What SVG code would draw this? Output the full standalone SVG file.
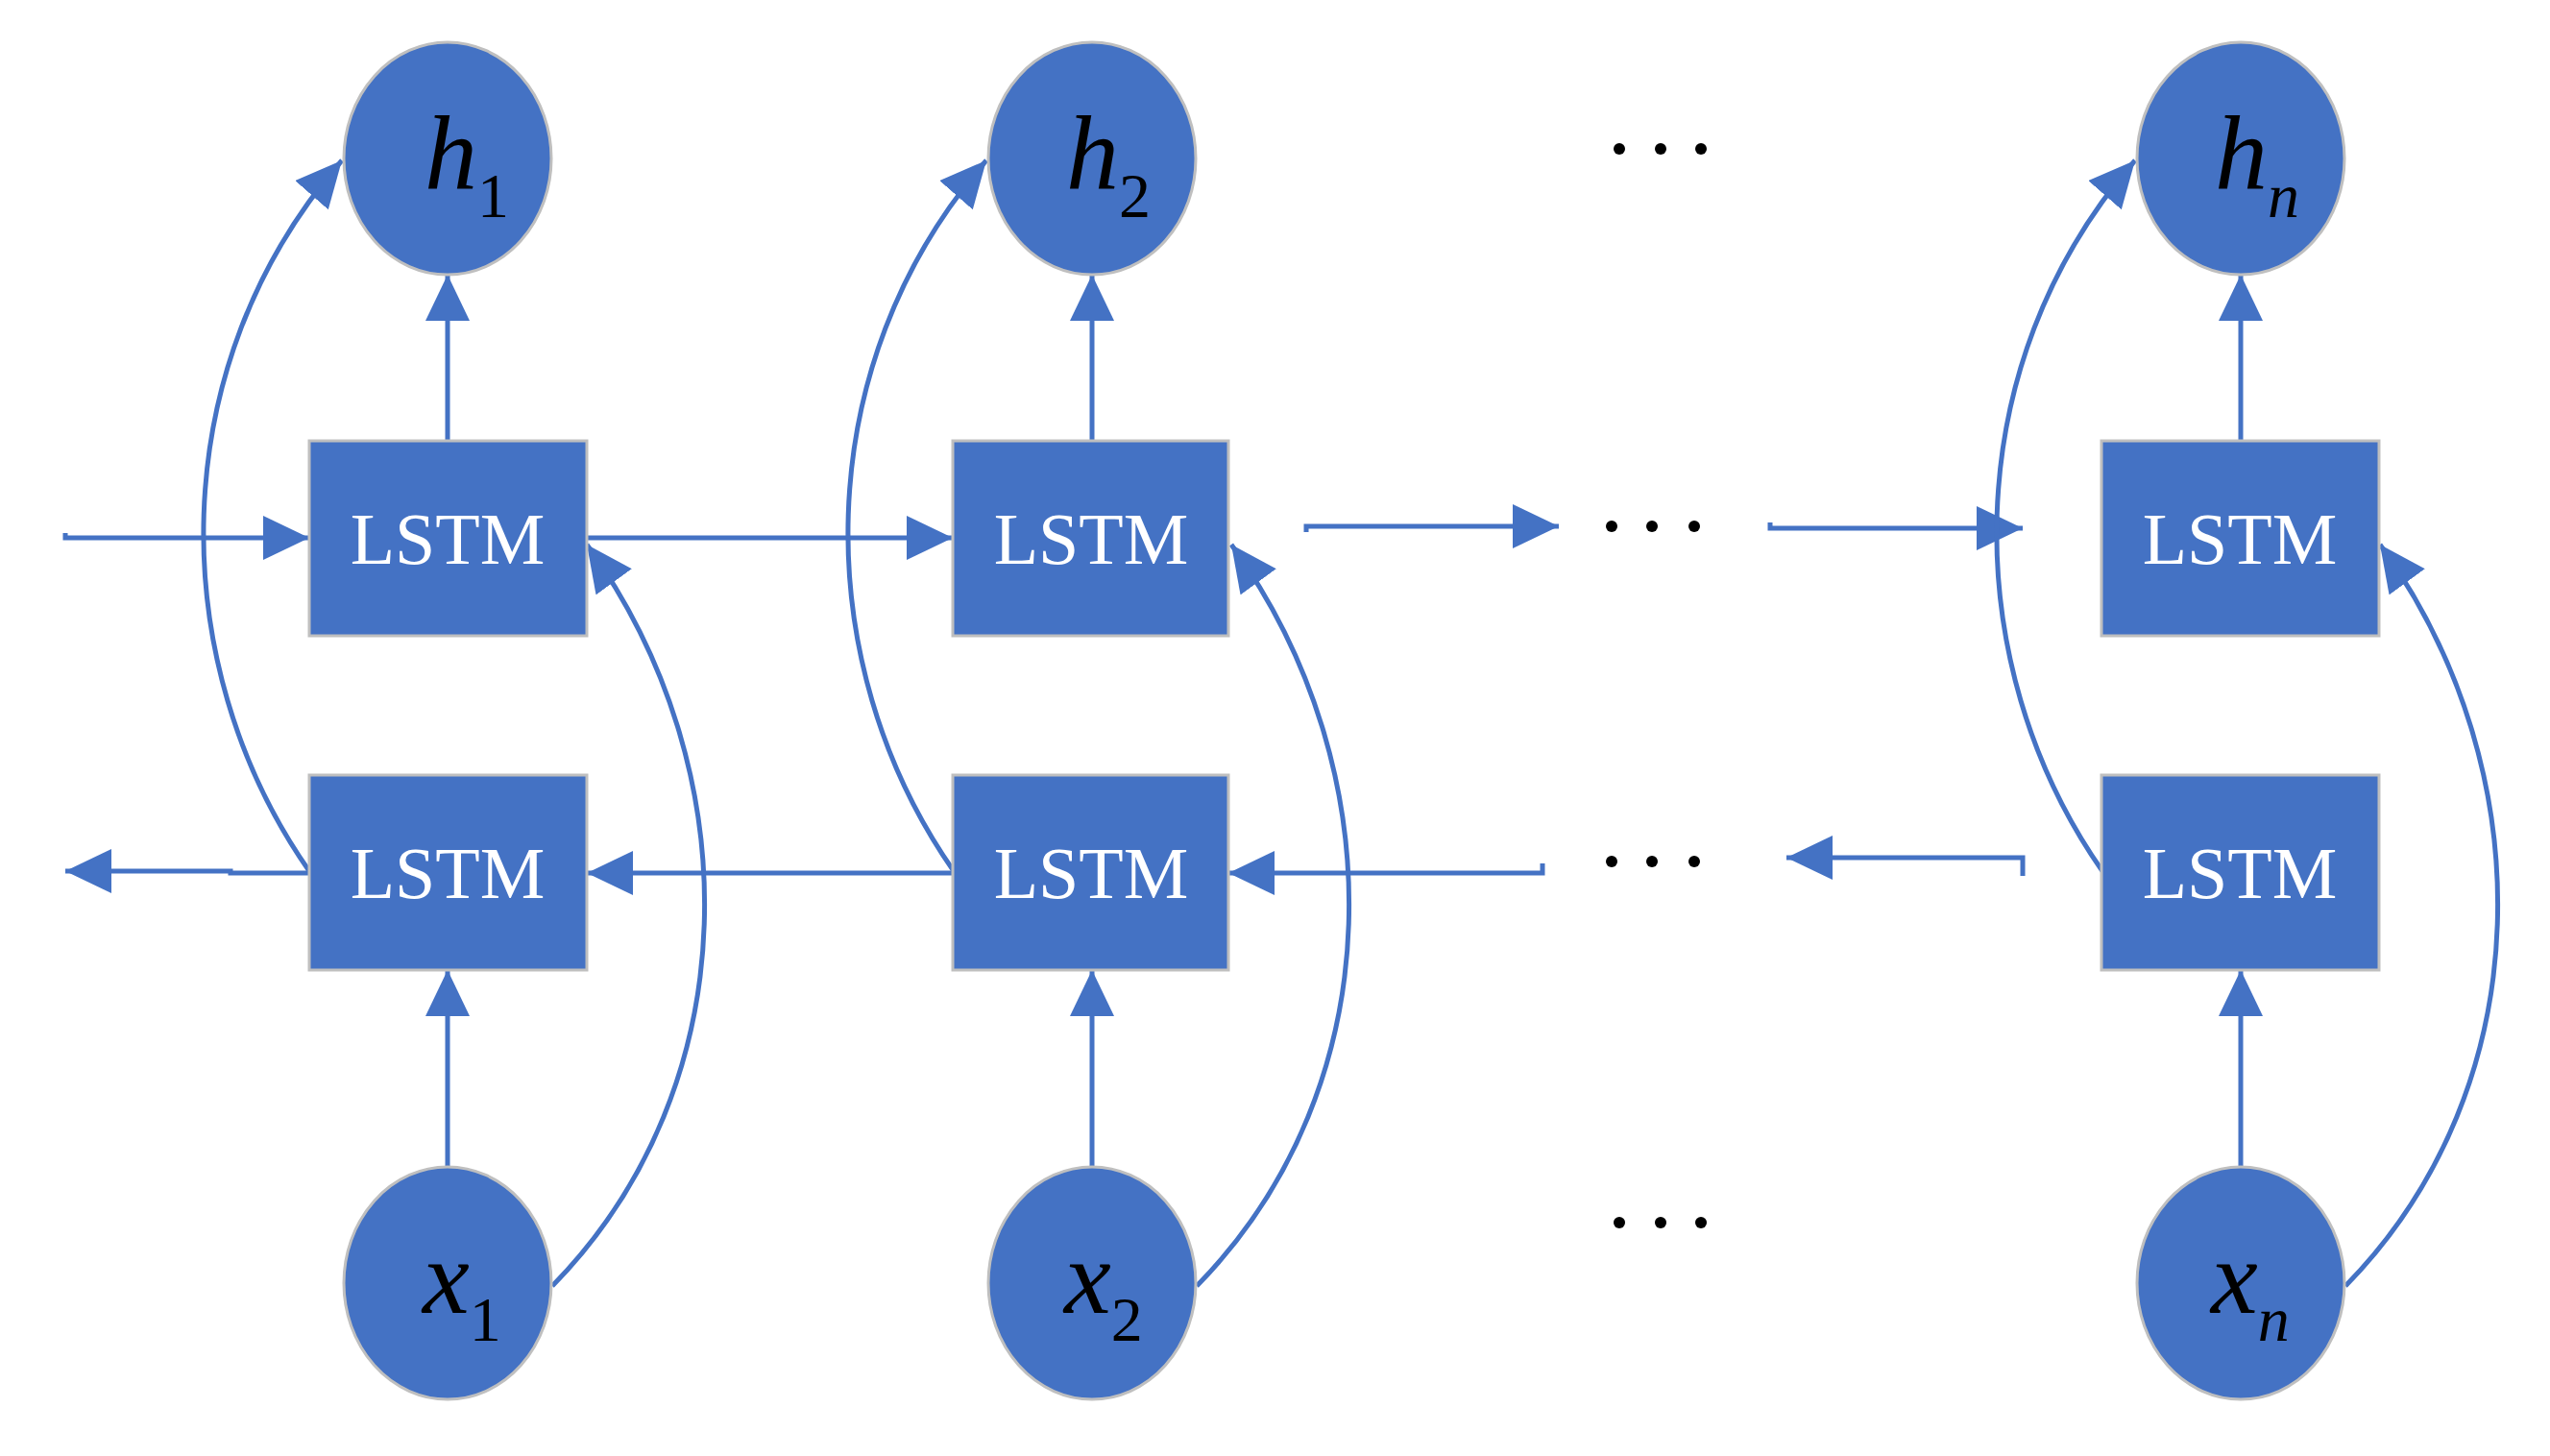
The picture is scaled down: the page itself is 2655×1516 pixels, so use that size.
<svg xmlns="http://www.w3.org/2000/svg" width="2655" height="1516" viewBox="0 0 2655 1516">
<defs>
<style>
.n{fill:#4472C4;stroke:#BFBFBF;stroke-width:3}
.c{fill:none;stroke:#4472C4;stroke-width:5}
.l{font-family:"Liberation Serif",serif;font-size:76px;fill:#fff;text-anchor:middle}
.v{font-family:"Liberation Serif",serif;font-size:110px;font-style:italic;fill:#000}
.s{font-size:66px}
.si{font-style:normal}
.d{fill:#000}
</style>
<marker id="a" markerUnits="userSpaceOnUse" markerWidth="50" markerHeight="46" refX="48" refY="23" orient="auto"><path d="M0,0 L48,23 L0,46 Z" fill="#4472C4"/></marker>
</defs>
<g id="connectors">
<path class="c" d="M68,555 V560 H322" marker-end="url(#a)"/>
<path class="c" d="M322,909 H240 V907 H68" marker-end="url(#a)"/>
<path class="c" d="M611,560 H992" marker-end="url(#a)"/>
<path class="c" d="M992,909 H611" marker-end="url(#a)"/>
<path class="c" d="M1360,554 V548 H1623" marker-end="url(#a)"/>
<path class="c" d="M1843,544 V550 H2106" marker-end="url(#a)"/>
<path class="c" d="M1335,909 H1606 V899"/>
<path class="c" d="M1335,909 H1279" marker-end="url(#a)"/>
<path class="c" d="M2106,912 V893 H1860" marker-end="url(#a)"/>
<g id="col1c">
<path class="c" d="M466,459 V286" marker-end="url(#a)"/>
<path class="c" d="M466,1215 V1010" marker-end="url(#a)"/>
<path class="c" d="M322,907 C170,690 170,380 356,167" marker-end="url(#a)"/>
<path class="c" d="M575,1339 C780,1130 780,800 611,567" marker-end="url(#a)"/>
</g>
<use href="#col1c" x="671"/>
<use href="#col1c" x="1867"/>
</g>
<g id="col1">
<ellipse class="n" cx="466" cy="165" rx="108" ry="121"/>
<text class="v" x="442" y="197">h<tspan class="s si" dy="29">1</tspan></text>
<rect class="n" x="322" y="459" width="289" height="203"/>
<text class="l" x="466" y="587">LSTM</text>
<rect class="n" x="322" y="807" width="289" height="203"/>
<text class="l" x="466" y="935">LSTM</text>
<ellipse class="n" cx="466" cy="1336" rx="108" ry="121"/>
<text class="v" x="440" y="1367">x<tspan class="s si" dy="29">1</tspan></text>
</g>
<g id="col2">
<ellipse class="n" cx="1137" cy="165" rx="108" ry="121"/>
<text class="v" x="1110" y="197">h<tspan class="s si" dy="29">2</tspan></text>
<rect class="n" x="992" y="459" width="287" height="203"/>
<text class="l" x="1136" y="587">LSTM</text>
<rect class="n" x="992" y="807" width="287" height="203"/>
<text class="l" x="1136" y="935">LSTM</text>
<ellipse class="n" cx="1137" cy="1336" rx="108" ry="121"/>
<text class="v" x="1108" y="1367">x<tspan class="s si" dy="29">2</tspan></text>
</g>
<g id="coln">
<ellipse class="n" cx="2333" cy="165" rx="108" ry="121"/>
<text class="v" x="2306" y="197">h<tspan class="s" dy="29">n</tspan></text>
<rect class="n" x="2188" y="459" width="289" height="203"/>
<text class="l" x="2332" y="587">LSTM</text>
<rect class="n" x="2188" y="807" width="289" height="203"/>
<text class="l" x="2332" y="935">LSTM</text>
<ellipse class="n" cx="2333" cy="1336" rx="108" ry="121"/>
<text class="v" x="2302" y="1367">x<tspan class="s" dy="29">n</tspan></text>
</g>
<g id="dots">
<circle class="d" cx="1686" cy="155" r="6"/><circle class="d" cx="1729" cy="155" r="6"/><circle class="d" cx="1771" cy="155" r="6"/>
<circle class="d" cx="1678" cy="548" r="6"/><circle class="d" cx="1720" cy="548" r="6"/><circle class="d" cx="1764" cy="548" r="6"/>
<circle class="d" cx="1678" cy="897" r="6"/><circle class="d" cx="1720" cy="897" r="6"/><circle class="d" cx="1764" cy="897" r="6"/>
<circle class="d" cx="1686" cy="1273" r="6"/><circle class="d" cx="1729" cy="1273" r="6"/><circle class="d" cx="1771" cy="1273" r="6"/>
</g>
</svg>
